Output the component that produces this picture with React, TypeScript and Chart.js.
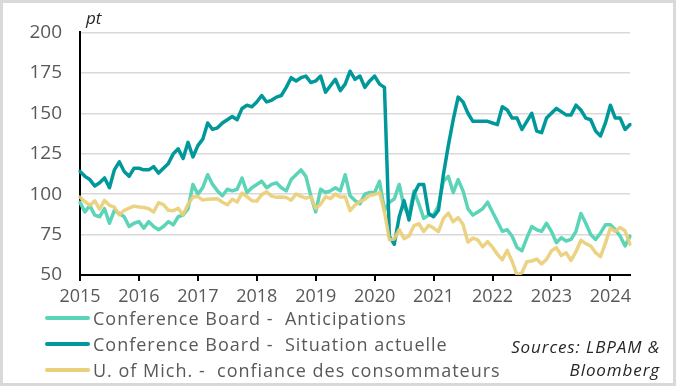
import React, { useEffect, useRef } from "react";
import { Chart, registerables } from "chart.js";

Chart.register(...registerables);

const years = ["2015", "2016", "2017", "2018", "2019", "2020", "2021", "2022", "2023", "2024"];
const monthsInLastYear = 5;

const anticipations = [
  95, 89, 93, 87, 86, 91, 82, 90, 88, 86, 80, 82,
  83, 79, 83, 80, 78, 80, 83, 81, 86, 87, 91, 106,
  100, 104, 112, 106, 102, 99, 103, 102, 103, 110, 101, 104,
  106, 108, 104, 106, 107, 104, 102, 109, 112, 115, 111, 99,
  89, 103, 101, 102, 104, 102, 112, 99, 96, 94, 100, 101,
  101, 108, 90, 95, 97, 106, 92, 87, 102, 94, 85, 87,
  87, 93, 108, 111, 101, 109, 102, 91, 87, 89, 91, 95,
  89, 83, 77, 78, 74, 67, 65, 73, 80, 78, 77, 82,
  77, 70, 73, 71, 72, 77, 88, 82, 75, 72, 76, 81,
  81, 78, 74, 68, 74,
];

const situation = [
  114, 111, 109, 105, 107, 110, 104, 115, 120, 114, 111, 116,
  116, 115, 115, 117, 113, 116, 119, 125, 128, 122, 132, 123,
  130, 134, 144, 140, 141, 144, 146, 148, 146, 153, 155, 154,
  157, 161, 157, 158, 160, 161, 166, 172, 170, 172, 173, 169,
  170, 173, 163, 167, 171, 164, 168, 176, 171, 173, 166, 170,
  173, 168, 166, 74, 69, 86, 96, 84, 100, 106, 106, 88,
  86, 90, 112, 130, 146, 160, 157, 150, 145, 145, 145, 145,
  144, 143, 154, 152, 147, 147, 140, 145, 150, 139, 138, 147,
  150, 153, 151, 149, 149, 155, 152, 147, 146, 139, 136, 144,
  155, 147, 147, 140, 143,
];

const michigan = [
  98.1, 95.4, 93.0, 95.9, 90.7, 96.1, 93.1, 91.9, 87.2, 90.0, 91.3, 92.6,
  92.0, 91.7, 91.0, 89.0, 94.7, 93.5, 90.0, 89.8, 91.2, 87.2, 93.8, 98.2,
  98.5, 96.3, 96.9, 97.0, 97.1, 95.0, 93.4, 96.8, 95.1, 100.7, 98.5, 95.9,
  95.7, 99.7, 101.4, 98.8, 98.0, 98.2, 97.9, 96.2, 100.1, 98.6, 97.5, 98.3,
  91.2, 93.8, 98.4, 97.2, 100.0, 98.2, 98.4, 89.8, 93.2, 95.5, 96.8, 99.3,
  99.8, 101.0, 89.1, 71.8, 72.3, 78.1, 72.5, 74.1, 80.4, 81.8, 76.9, 80.7,
  79.0, 76.8, 84.9, 88.3, 82.9, 85.5, 81.2, 70.3, 72.8, 71.7, 67.4, 70.6,
  67.2, 62.8, 59.4, 65.2, 58.4, 50.0, 51.5, 58.2, 58.6, 59.9, 56.8, 59.7,
  64.9, 67.0, 62.0, 63.7, 59.0, 64.4, 71.5, 69.4, 67.9, 63.8, 61.3, 69.7,
  79.0, 76.9, 79.4, 77.2, 69.1,
];

const seriesNames = [
  "Conference Board -  Anticipations",
  "Conference Board -  Situation actuelle",
  "U. of Mich. -  confiance des consommateurs",
];
const seriesColors = ["#5cd4b8", "#00989b", "#e9cf78"];

const monthLabels: string[] = [];
years.forEach((y, yi) => {
  const n = yi === years.length - 1 ? monthsInLastYear : 12;
  for (let m = 1; m <= n; m++) monthLabels.push(`${y}-${String(m).padStart(2, "0")}`);
});

const FONT = "'Open Sans', 'DejaVu Sans', sans-serif";
const GRAY = "#595959";

export default function App() {
  const ref = useRef<HTMLCanvasElement | null>(null);

  useEffect(() => {
    if (!ref.current) return;
    const chart = new Chart(ref.current, {
      type: "line",
      data: {
        labels: monthLabels,
        datasets: [
          { label: seriesNames[0], data: anticipations, borderColor: seriesColors[0], order: 2 },
          { label: seriesNames[1], data: situation, borderColor: seriesColors[1], order: 1 },
          { label: seriesNames[2], data: michigan, borderColor: "rgba(233,207,120,0.92)", order: 0 },
        ].map((d) => ({
          ...d,
          borderWidth: 3.5,
          pointRadius: 0,
          tension: 0,
          fill: false,
          borderJoinStyle: "round" as const,
          borderCapStyle: "round" as const,
        })),
      },
      options: {
        animation: false,
        responsive: false,
        devicePixelRatio: 1,
        layout: { padding: { left: 0, right: 43, top: 15, bottom: 0 } },
        plugins: { legend: { display: false }, tooltip: { enabled: false } },
        scales: {
          x: {
            type: "category",
            offset: false,
            grid: {
              drawOnChartArea: false,
              drawTicks: true,
              tickLength: 6,
              lineWidth: 2,
              color: (ctx: any) => (ctx.index % 12 === 0 ? "#000" : "rgba(0,0,0,0)"),
            },
            border: { display: true, color: "#000", width: 2 },
            ticks: {
              autoSkip: false,
              maxRotation: 0,
              minRotation: 0,
              padding: 5,
              color: GRAY,
              font: { family: FONT, size: 18 },
              callback: (_v: any, i: number) => (i % 12 === 0 ? years[i / 12] : ""),
            },
            afterFit: (s: any) => {
              s.height = 108;
            },
          },
          y: {
            min: 50,
            max: 200,
            ticks: {
              stepSize: 25,
              padding: 18,
              color: GRAY,
              font: { family: FONT, size: 19 },
            },
            grid: { color: "#d9d9d9", lineWidth: 1.5, drawTicks: false },
            border: { display: true, color: "#000", width: 2 },
            afterFit: (s: any) => {
              s.width = 77;
            },
          },
        },
      },
    });
    return () => chart.destroy();
  }, []);

  const legendRows = [315, 341, 367];

  return (
    <div
      style={{
        position: "absolute",
        left: 0,
        top: 0,
        width: 676,
        height: 386,
        boxSizing: "border-box",
        border: "3px solid #d9d9d9",
        background: "#fff",
        fontFamily: FONT,
        overflow: "hidden",
      }}
    >
      <canvas ref={ref} width={670} height={380} style={{ position: "absolute", left: 0, top: 0 }} />
      <span
        style={{
          position: "absolute",
          left: 83,
          top: 5,
          fontSize: 17,
          lineHeight: "20px",
          fontStyle: "italic",
          color: "#262626",
        }}
      >
        pt
      </span>
      {seriesNames.map((name, i) => (
        <div
          key={name}
          style={{
            position: "absolute",
            left: 42,
            top: legendRows[i] - 12,
            height: 24,
            display: "flex",
            alignItems: "center",
            whiteSpace: "nowrap",
          }}
        >
          <div style={{ width: 45, height: 4, background: seriesColors[i], marginRight: 3, borderRadius: 2 }} />
          <span style={{ fontSize: 18, letterSpacing: "1px", color: GRAY, lineHeight: "24px", whiteSpace: "pre" }}>
            {name}
          </span>
        </div>
      ))}
      <div
        style={{
          position: "absolute",
          right: 13,
          top: 332,
          textAlign: "right",
          fontSize: 17,
          letterSpacing: "0.9px",
          lineHeight: "23px",
          fontStyle: "italic",
          color: "#262626",
        }}
      >
        Sources: LBPAM &amp;
        <br />
        Bloomberg
      </div>
    </div>
  );
}
